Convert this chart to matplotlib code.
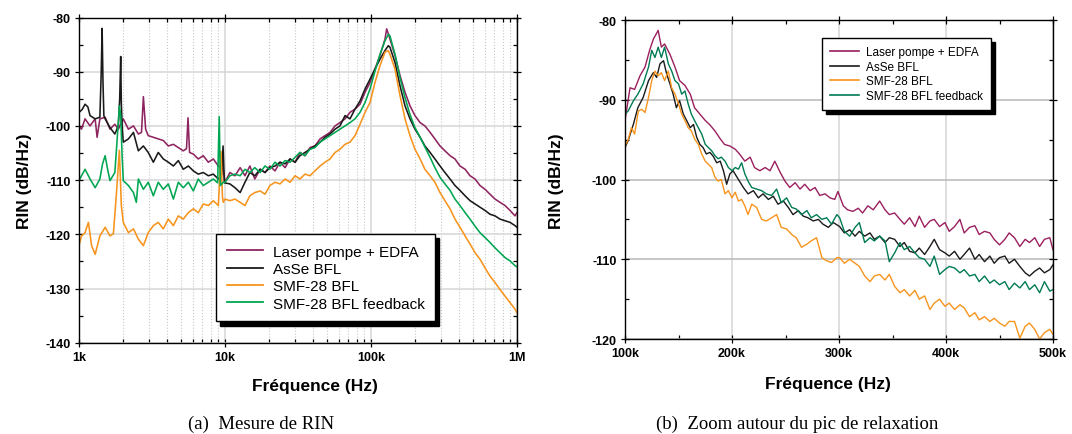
import numpy as np
import matplotlib
matplotlib.use("Agg")
import matplotlib.pyplot as plt
from matplotlib.ticker import FixedLocator, LogLocator, MultipleLocator, NullFormatter
from matplotlib.lines import Line2D

plt.rcParams['font.family'] = ['Liberation Sans', 'DejaVu Sans']
plt.rcParams['axes.unicode_minus'] = False

labels = ['Laser pompe + EDFA', 'AsSe BFL', 'SMF-28 BFL', 'SMF-28 BFL feedback']
colors_a = ['#8e2460', '#1a1a1a', '#f7941d', '#00a651']
colors_b = ['#9a1f5e', '#1a1a1a', '#f7941d', '#007a55']

# ---- panel (a): frequency in kHz, RIN in dB/Hz
laser_a = [(1.00, -100.0), (1.04, -100.6), (1.10, -98.7), (1.19, -100.0), (1.29, -98.7), (1.33, -102.1),
           (1.39, -98.7), (1.51, -98.4), (1.63, -100.6), (1.76, -99.7), (1.86, -100.6), (2.01, -98.7),
           (2.18, -100.6), (2.36, -100.0), (2.55, -101.5), (2.68, -101.2), (2.76, -94.6), (2.86, -100.6),
           (2.98, -101.8), (3.23, -102.1), (3.49, -102.4), (3.78, -102.7), (4.09, -103.7), (4.43, -103.4),
           (4.79, -104.0), (5.18, -104.6), (5.45, -104.2), (5.58, -98.5), (5.72, -104.9), (6.07, -105.2),
           (6.56, -106.1), (7.10, -105.5), (7.69, -106.7), (8.32, -106.1), (9.00, -107.4), (9.73, -108.0),
           (10.0, -110.4), (10.8, -108.6), (11.7, -109.2), (12.7, -107.7), (13.7, -109.2), (14.8, -107.4),
           (16.0, -109.8), (17.4, -108.0), (18.8, -108.6), (20.3, -107.4), (22.0, -108.3), (23.8, -106.7),
           (25.8, -107.7), (27.9, -106.1), (30.2, -106.7), (32.6, -104.9), (35.3, -105.5), (38.2, -104.0),
           (41.3, -103.7), (44.8, -102.4), (48.4, -101.8), (52.4, -101.2), (56.7, -100.0), (61.3, -99.4),
           (66.4, -98.7), (71.8, -97.5), (77.7, -96.9), (84.1, -96.0), (91.0, -93.8), (98.4, -92.0),
           (106.5, -89.5), (115.2, -87.0), (124.7, -84.0), (128.0, -82.1), (131.4, -83.0), (134.9, -84.0),
           (146.0, -87.0), (158.0, -90.7), (171.0, -93.8), (185.0, -96.3), (200.0, -98.1), (217.0, -99.4),
           (234.0, -100.0), (254.0, -101.2), (274.0, -102.4), (297.0, -103.7), (321.0, -104.6), (348.0, -105.5),
           (376.0, -106.1), (407.0, -107.4), (441.0, -108.0), (477.0, -109.2), (516.0, -109.8), (558.0, -111.0),
           (604.0, -111.7), (653.0, -112.6), (707.0, -113.5), (765.0, -114.1), (828.0, -114.7), (896.0, -115.6),
           (969.0, -116.6), (1000.0, -116.0)]

asse_a = [(1.00, -97.5), (1.05, -97.0), (1.10, -96.0), (1.15, -96.5), (1.19, -98.1), (1.29, -98.7),
          (1.39, -98.4), (1.42, -90.0), (1.44, -82.0), (1.46, -92.0), (1.48, -98.1), (1.51, -98.7),
          (1.63, -100.3), (1.76, -101.5), (1.86, -100.0), (1.90, -95.0), (1.93, -87.2), (1.95, -96.0),
          (1.98, -100.6), (2.01, -103.0), (2.18, -102.4), (2.36, -101.2), (2.55, -104.6), (2.76, -103.7),
          (2.98, -104.9), (3.23, -106.7), (3.49, -104.9), (3.78, -106.1), (4.09, -106.7), (4.43, -107.4),
          (4.79, -106.4), (5.18, -108.0), (5.61, -107.4), (6.07, -108.3), (6.56, -108.9), (7.10, -108.6),
          (7.69, -109.2), (8.32, -108.9), (9.00, -109.8), (9.50, -109.0), (9.70, -103.7), (9.90, -110.5),
          (10.8, -110.7), (11.7, -111.4), (12.7, -112.3), (13.7, -110.4), (14.8, -108.6), (16.0, -109.2),
          (17.4, -108.0), (18.8, -108.6), (20.3, -107.7), (22.0, -107.4), (23.8, -106.7), (25.8, -107.0),
          (27.9, -106.1), (30.2, -106.7), (32.6, -105.5), (35.3, -104.9), (38.2, -104.3), (41.3, -103.7),
          (44.8, -103.0), (48.4, -102.1), (52.4, -101.5), (56.7, -100.6), (61.3, -100.0), (66.4, -98.1),
          (71.8, -98.7), (77.7, -96.9), (84.1, -95.4), (91.0, -93.2), (98.4, -91.4), (106.5, -89.5),
          (115.2, -87.7), (124.7, -86.1), (131.4, -85.2), (134.9, -85.5), (146.0, -88.3), (158.0, -92.6),
          (171.0, -96.3), (185.0, -98.7), (200.0, -100.6), (217.0, -102.1), (234.0, -103.7), (254.0, -104.9),
          (274.0, -106.1), (297.0, -107.4), (321.0, -108.6), (348.0, -109.8), (376.0, -111.0), (407.0, -111.9),
          (441.0, -112.9), (477.0, -113.8), (516.0, -114.4), (558.0, -115.0), (604.0, -115.6), (653.0, -116.3),
          (707.0, -116.6), (765.0, -117.2), (828.0, -117.5), (896.0, -117.8), (969.0, -118.4), (1000.0, -118.7)]

smf_a = [(1.00, -122.1), (1.04, -120.3), (1.10, -119.7), (1.16, -117.8), (1.22, -122.1), (1.29, -123.7),
         (1.39, -120.3), (1.51, -118.7), (1.63, -120.3), (1.72, -119.9), (1.80, -112.9), (1.89, -104.5),
         (1.95, -114.7), (2.01, -117.8), (2.18, -119.7), (2.36, -119.0), (2.55, -120.9), (2.76, -122.1),
         (2.98, -119.7), (3.23, -118.4), (3.49, -117.8), (3.78, -119.0), (4.09, -117.2), (4.43, -118.4),
         (4.79, -116.6), (5.18, -117.2), (5.61, -116.0), (6.07, -115.3), (6.56, -116.0), (7.10, -114.4),
         (7.69, -114.7), (8.32, -113.8), (9.00, -114.7), (9.40, -104.7), (9.60, -113.0), (9.73, -114.1),
         (10.0, -113.5), (10.8, -113.8), (11.7, -113.5), (12.7, -114.1), (13.7, -114.7), (14.8, -112.9),
         (16.0, -112.3), (17.4, -112.0), (18.8, -112.6), (20.3, -111.0), (22.0, -110.4), (23.8, -110.7),
         (25.8, -109.8), (27.9, -110.4), (30.2, -109.2), (32.6, -109.8), (35.3, -108.9), (38.2, -109.2),
         (41.3, -108.3), (44.8, -107.4), (48.4, -106.7), (52.4, -106.1), (56.7, -104.9), (61.3, -104.3),
         (66.4, -103.4), (71.8, -103.0), (77.7, -101.8), (84.1, -99.7), (91.0, -97.5), (98.4, -95.7),
         (106.5, -92.0), (115.2, -88.9), (124.7, -86.4), (131.4, -86.1), (134.9, -86.8), (146.0, -89.5),
         (158.0, -94.4), (171.0, -98.7), (185.0, -101.8), (200.0, -104.3), (217.0, -106.1), (234.0, -108.0),
         (254.0, -109.2), (274.0, -110.4), (297.0, -112.3), (321.0, -113.8), (348.0, -115.3), (376.0, -117.2),
         (407.0, -118.7), (441.0, -120.3), (477.0, -121.8), (516.0, -123.4), (558.0, -124.6), (604.0, -126.2),
         (653.0, -127.7), (707.0, -128.9), (765.0, -130.2), (828.0, -131.4), (896.0, -132.6), (969.0, -133.8),
         (1000.0, -134.5)]

fb_a = [(1.00, -110.1), (1.05, -109.0), (1.10, -108.0), (1.15, -109.0), (1.19, -109.8), (1.29, -111.4),
        (1.39, -109.8), (1.45, -107.0), (1.51, -105.5), (1.57, -108.0), (1.63, -110.1), (1.76, -108.6),
        (1.82, -103.0), (1.89, -96.3), (1.93, -98.0), (1.97, -105.0), (2.01, -110.1), (2.18, -111.0),
        (2.36, -112.3), (2.47, -114.1), (2.55, -109.8), (2.76, -111.7), (2.98, -110.4), (3.23, -112.9),
        (3.49, -110.4), (3.78, -111.7), (4.09, -110.7), (4.43, -113.5), (4.79, -110.4), (5.18, -111.4),
        (5.61, -110.4), (6.07, -112.0), (6.56, -109.8), (7.10, -111.0), (7.69, -110.4), (8.32, -109.8),
        (8.90, -110.5), (9.13, -98.3), (9.30, -111.0), (9.73, -110.4), (10.0, -110.4), (10.8, -109.2),
        (11.7, -108.9), (12.7, -109.2), (13.7, -108.0), (14.8, -108.6), (16.0, -107.7), (17.4, -108.6),
        (18.8, -107.4), (20.3, -108.0), (22.0, -106.7), (23.8, -107.4), (25.8, -106.4), (27.9, -106.7),
        (30.2, -105.8), (32.6, -104.9), (35.3, -105.5), (38.2, -104.3), (41.3, -104.0), (44.8, -103.0),
        (48.4, -102.4), (52.4, -101.8), (56.7, -101.2), (61.3, -100.6), (66.4, -100.0), (71.8, -99.4),
        (77.7, -98.7), (84.1, -97.5), (91.0, -95.7), (98.4, -93.2), (106.5, -89.9), (115.2, -86.8),
        (124.7, -84.3), (131.4, -83.1), (134.9, -83.4), (146.0, -86.8), (158.0, -91.1), (171.0, -94.8),
        (185.0, -97.9), (200.0, -100.3), (217.0, -102.1), (234.0, -103.9), (254.0, -105.8), (274.0, -107.7),
        (297.0, -109.5), (321.0, -110.7), (348.0, -111.9), (376.0, -113.5), (407.0, -114.7), (441.0, -116.0),
        (477.0, -117.2), (516.0, -118.5), (558.0, -119.7), (604.0, -120.6), (653.0, -121.5), (707.0, -122.5),
        (765.0, -123.4), (828.0, -124.3), (896.0, -124.9), (969.0, -125.8), (1000.0, -126.0)]

# ---- panel (b): zoom on the relaxation peak (kHz, dB/Hz)
laser_b = [(100, -92.6), (104.7, -88.5), (109, -88.7), (114, -87.0), (118.7, -85.9), (123, -83.8),
           (126.5, -82.4), (131, -81.3), (134, -83.4), (137, -83.0), (142, -84.3), (146.7, -85.9),
           (151, -87.6), (156, -88.2), (161, -89.3), (165, -91.0), (170, -91.8), (175, -92.6),
           (179, -93.1), (184, -93.9), (189, -94.9), (193, -95.6), (198, -95.8), (203, -96.2),
           (207, -96.8), (212, -97.7), (217, -97.2), (221, -98.5), (226, -98.9), (231, -98.5),
           (235.5, -98.9), (240, -97.7), (245, -99.1), (249.5, -100.2), (254, -101.0), (259, -100.4),
           (263.6, -101.2), (268, -100.6), (273, -101.4), (277.6, -101.0), (282, -102.0), (287, -101.8),
           (291.6, -102.3), (296, -102.5), (299, -101.5), (304, -103.3), (308, -103.8), (313, -104.0),
           (318, -103.6), (322, -104.2), (327, -103.3), (332, -103.8), (338, -102.7), (343, -103.8),
           (347, -104.4), (352, -104.2), (357, -105.0), (361, -105.6), (366, -104.8), (371, -105.9),
           (375, -104.6), (380, -106.0), (385, -105.2), (389, -105.0), (394, -105.9), (399, -105.4),
           (403, -106.5), (408, -105.9), (413, -105.0), (417, -106.7), (422, -106.0), (427, -105.8),
           (431, -106.9), (436, -106.5), (441, -106.7), (445, -107.5), (450, -108.2), (455, -107.5),
           (459, -106.7), (464, -107.3), (469, -108.4), (474, -107.5), (478, -107.9), (483, -107.3),
           (487.5, -108.4), (492, -107.5), (497, -107.3), (500, -108.8)]

asse_b = [(100, -96.0), (103, -95.1), (108, -93.0), (112, -91.0), (117, -89.7), (122, -87.6),
          (126.5, -86.6), (129.6, -87.2), (132.7, -85.5), (136, -85.1), (139, -86.8), (142, -88.0),
          (145, -89.3), (148, -91.0), (151, -90.1), (154.5, -91.8), (157.6, -92.6), (161, -93.5),
          (164, -93.1), (167, -94.7), (170, -95.6), (173, -96.0), (176, -96.8), (179.4, -96.6),
          (182.5, -97.1), (185.7, -97.9), (189, -97.7), (192, -98.9), (195, -100.6), (198, -99.3),
          (201, -98.9), (206, -100.0), (210.6, -101.0), (215, -101.8), (220, -101.4), (224.6, -102.3),
          (229, -101.8), (234, -102.5), (238.6, -102.1), (243, -103.1), (248, -102.7), (252.6, -103.5),
          (257, -104.4), (262, -103.9), (266.7, -104.6), (271, -104.8), (276, -105.2), (280.7, -105.0),
          (285, -105.6), (290, -106.0), (294.7, -105.4), (300.6, -105.9), (305, -106.7), (310, -106.3),
          (315, -107.1), (319, -106.5), (324, -107.1), (329, -106.7), (333, -107.5), (338, -107.1),
          (343, -107.9), (347, -107.3), (352, -107.5), (357, -108.4), (361, -107.9), (366, -109.0),
          (371, -109.2), (375, -108.6), (380, -109.4), (385, -108.4), (389, -107.5), (394, -108.8),
          (399, -109.2), (403, -109.6), (408, -109.0), (413, -110.0), (417, -109.4), (422, -108.6),
          (427, -110.0), (431, -109.4), (436, -110.3), (441, -109.6), (445, -110.5), (450, -109.8),
          (455, -109.6), (459, -110.5), (464, -110.0), (469, -110.9), (474, -111.7), (478, -112.1),
          (483, -111.5), (487.5, -111.1), (492, -111.7), (497, -111.3), (500, -110.7)]

smf_b = [(100, -95.8), (103, -95.0), (106, -93.5), (109, -94.3), (112.5, -91.4), (115.6, -91.2),
         (118.7, -91.6), (122, -89.7), (125, -87.6), (128, -86.4), (131, -87.0), (134, -86.6),
         (137, -87.6), (140.5, -86.4), (143.6, -88.5), (146.7, -89.3), (150, -90.5), (153, -91.8),
         (156, -92.6), (159, -93.5), (162, -93.9), (165, -94.9), (168.5, -95.6), (171.7, -96.8),
         (175, -97.7), (178, -98.1), (181, -98.5), (184, -99.7), (187, -100.2), (190, -100.0),
         (193.5, -101.8), (196.6, -101.4), (200, -102.3), (203, -101.6), (206, -102.7), (209, -102.5),
         (212, -103.3), (215, -104.4), (218.4, -103.1), (223, -103.5), (227.7, -105.0), (232, -105.2),
         (237, -104.8), (241.7, -104.4), (246, -106.0), (251, -106.2), (255.8, -106.9), (260, -107.3),
         (265, -108.5), (270, -108.1), (274, -107.7), (279, -107.3), (284, -109.8), (288.5, -110.2),
         (293, -110.4), (298, -109.8), (300.6, -109.8), (305, -110.5), (310, -110.0), (315, -110.5),
         (319, -110.9), (324, -112.1), (329, -112.8), (333, -112.1), (338, -111.9), (343, -112.6),
         (347, -111.9), (352, -113.4), (357, -114.2), (361, -113.8), (366, -114.6), (371, -113.9),
         (375, -115.0), (380, -114.6), (385, -116.3), (389, -115.5), (394, -115.0), (399, -115.9),
         (403, -115.5), (408, -116.3), (413, -115.7), (417, -116.1), (422, -117.2), (427, -116.7),
         (431, -117.6), (436, -117.2), (441, -117.8), (445, -117.4), (450, -118.0), (455, -118.4),
         (459, -117.8), (464, -117.8), (469, -119.9), (474, -118.4), (478, -118.0), (483, -118.8),
         (487.5, -120.0), (492, -119.2), (497, -118.8), (500, -119.4)]

fb_b = [(100, -91.8), (103, -91.4), (108, -90.1), (112, -89.3), (117, -88.0), (122, -85.9),
        (125, -83.8), (128, -84.7), (131, -83.4), (134, -84.7), (137, -83.4), (140.5, -85.5),
        (143.6, -86.4), (146.7, -87.6), (150, -88.0), (153, -89.3), (156, -88.9), (159, -90.5),
        (162, -91.8), (165, -92.6), (168.5, -93.5), (171.7, -94.3), (175, -95.6), (178, -96.0),
        (181, -96.4), (184, -97.0), (187, -97.4), (190, -97.2), (193.5, -97.7), (196.6, -98.5),
        (200, -98.9), (203, -98.5), (206, -98.7), (209, -97.9), (212, -99.3), (215, -100.2),
        (218.4, -101.0), (223, -101.2), (227.7, -101.4), (232, -101.8), (237, -102.0), (241.7, -101.2),
        (246, -102.9), (251, -102.3), (255.8, -103.5), (260, -103.7), (265, -104.4), (270, -103.9),
        (274, -104.8), (279, -104.4), (284, -105.0), (288.5, -104.8), (293, -105.6), (298, -104.4),
        (300.6, -104.8), (305, -106.5), (310, -107.1), (315, -106.0), (319, -105.4), (324, -107.9),
        (329, -107.3), (333, -107.7), (338, -107.1), (343, -107.7), (347, -110.3), (352, -109.2),
        (357, -107.9), (361, -108.8), (366, -108.4), (371, -109.2), (375, -109.8), (380, -110.0),
        (385, -110.9), (389, -109.6), (394, -111.9), (399, -111.3), (403, -110.9), (408, -111.1),
        (413, -111.7), (417, -111.3), (422, -112.1), (427, -111.9), (431, -112.8), (436, -112.1),
        (441, -113.0), (445, -112.6), (450, -113.2), (455, -112.8), (459, -113.8), (464, -113.0),
        (469, -113.6), (474, -112.8), (478, -113.8), (483, -113.2), (487.5, -114.2), (492, -112.8),
        (497, -114.0), (500, -113.8)]

W, H = 1072, 435
fig = plt.figure(figsize=(W / 100, H / 100), dpi=100)


def fig_rect(x0, y0, x1, y1):
    # pixel box (top-left origin) -> figure fraction
    return [x0 / W, 1 - y1 / H, (x1 - x0) / W, (y1 - y0) / H]


def style_axes(ax, grid_color):
    ax.set_axisbelow(True)
    ax.grid(which='major', color=grid_color, lw=1.1)
    for s in ax.spines.values():
        s.set_linewidth(1.0)
    ax.tick_params(which='both', top=True, right=True, labelsize=9, width=0.9)
    ax.tick_params(which='major', direction='inout', length=6, pad=3)
    ax.tick_params(which='minor', direction='in', length=3)
    for lab in ax.get_xticklabels() + ax.get_yticklabels():
        lab.set_fontweight('bold')


def add_legend(ax, colors, anchor, size, lw):
    handles = [Line2D([], [], color=c, lw=lw) for c in colors]
    leg = ax.legend(handles, labels, loc='upper left', bbox_to_anchor=anchor,
                    bbox_transform=fig.transFigure, fontsize=size, frameon=True,
                    fancybox=False, edgecolor='black', framealpha=1, borderaxespad=0,
                    handlelength=2.4, handletextpad=0.6, labelspacing=0.22, borderpad=0.7,
                    shadow={'color': 'black', 'alpha': 1, 'ox': 3, 'oy': -3})
    leg.get_frame().set_linewidth(1.0)
    return leg


# ---------------- panel (a)
ax1 = fig.add_axes(fig_rect(79, 18.5, 517, 343.7))
for data, c in zip([laser_a, asse_a, smf_a, fb_a], colors_a):
    arr = np.array(data)
    ax1.plot(arr[:, 0] * 1e3, arr[:, 1], color=c, lw=1.15)
ax1.set_xscale('log')
ax1.set_xlim(1e3, 1e6)
ax1.set_ylim(-140, -80)
ax1.xaxis.set_major_locator(FixedLocator([1e3, 1e4, 1e5, 1e6]))
ax1.set_xticklabels(['1k', '10k', '100k', '1M'])
ax1.xaxis.set_minor_locator(LogLocator(base=10, subs=np.arange(2, 10)))
ax1.xaxis.set_minor_formatter(NullFormatter())
ax1.yaxis.set_major_locator(MultipleLocator(10))
ax1.yaxis.set_minor_locator(MultipleLocator(5))
ax1.grid(which='minor', axis='x', color='#c8c8c8', lw=0.8, ls=':')
style_axes(ax1, '#d6d6d6')
add_legend(ax1, colors_a, (216 / W, 1 - 235 / H), 11, 1.3)

# ---------------- panel (b)
ax2 = fig.add_axes(fig_rect(625, 21, 1053, 340))
for data, c in zip([laser_b, asse_b, smf_b, fb_b], colors_b):
    arr = np.array(data)
    ax2.plot(arr[:, 0] * 1e3, arr[:, 1], color=c, lw=1.0)
ax2.set_xlim(1e5, 5e5)
ax2.set_ylim(-120, -80)
ax2.xaxis.set_major_locator(FixedLocator([1e5, 2e5, 3e5, 4e5, 5e5]))
ax2.set_xticklabels(['100k', '200k', '300k', '400k', '500k'])
ax2.xaxis.set_minor_locator(MultipleLocator(5e4))
ax2.yaxis.set_major_locator(MultipleLocator(10))
ax2.yaxis.set_minor_locator(MultipleLocator(5))
style_axes(ax2, '#b8b8b8')
ax2.grid(which='major', axis='x', color='#d6d6d6', lw=1.1)
add_legend(ax2, colors_b, (822 / W, 1 - 39 / H), 8.5, 1.2)

# ---------------- labels and captions
for x in (25, 556):
    fig.text(x / W, 1 - 181 / H, 'RIN (dB/Hz)', rotation=90, ha='center', va='center',
             fontsize=12.5, fontweight='bold')
fig.text(315 / W, 1 - 387 / H, 'Fréquence (Hz)', ha='center', va='center', fontsize=12.5, fontweight='bold')
fig.text(828 / W, 1 - 385 / H, 'Fréquence (Hz)', ha='center', va='center', fontsize=12.5, fontweight='bold')
fig.text(261 / W, 1 - 424 / H, '(a)  Mesure de RIN', ha='center', va='center',
         fontsize=13.5, family=['Liberation Serif', 'DejaVu Serif'])
fig.text(797 / W, 1 - 424 / H, '(b)  Zoom autour du pic de relaxation', ha='center', va='center',
         fontsize=13.5, family=['Liberation Serif', 'DejaVu Serif'])

fig.savefig('out.png', dpi=100)
